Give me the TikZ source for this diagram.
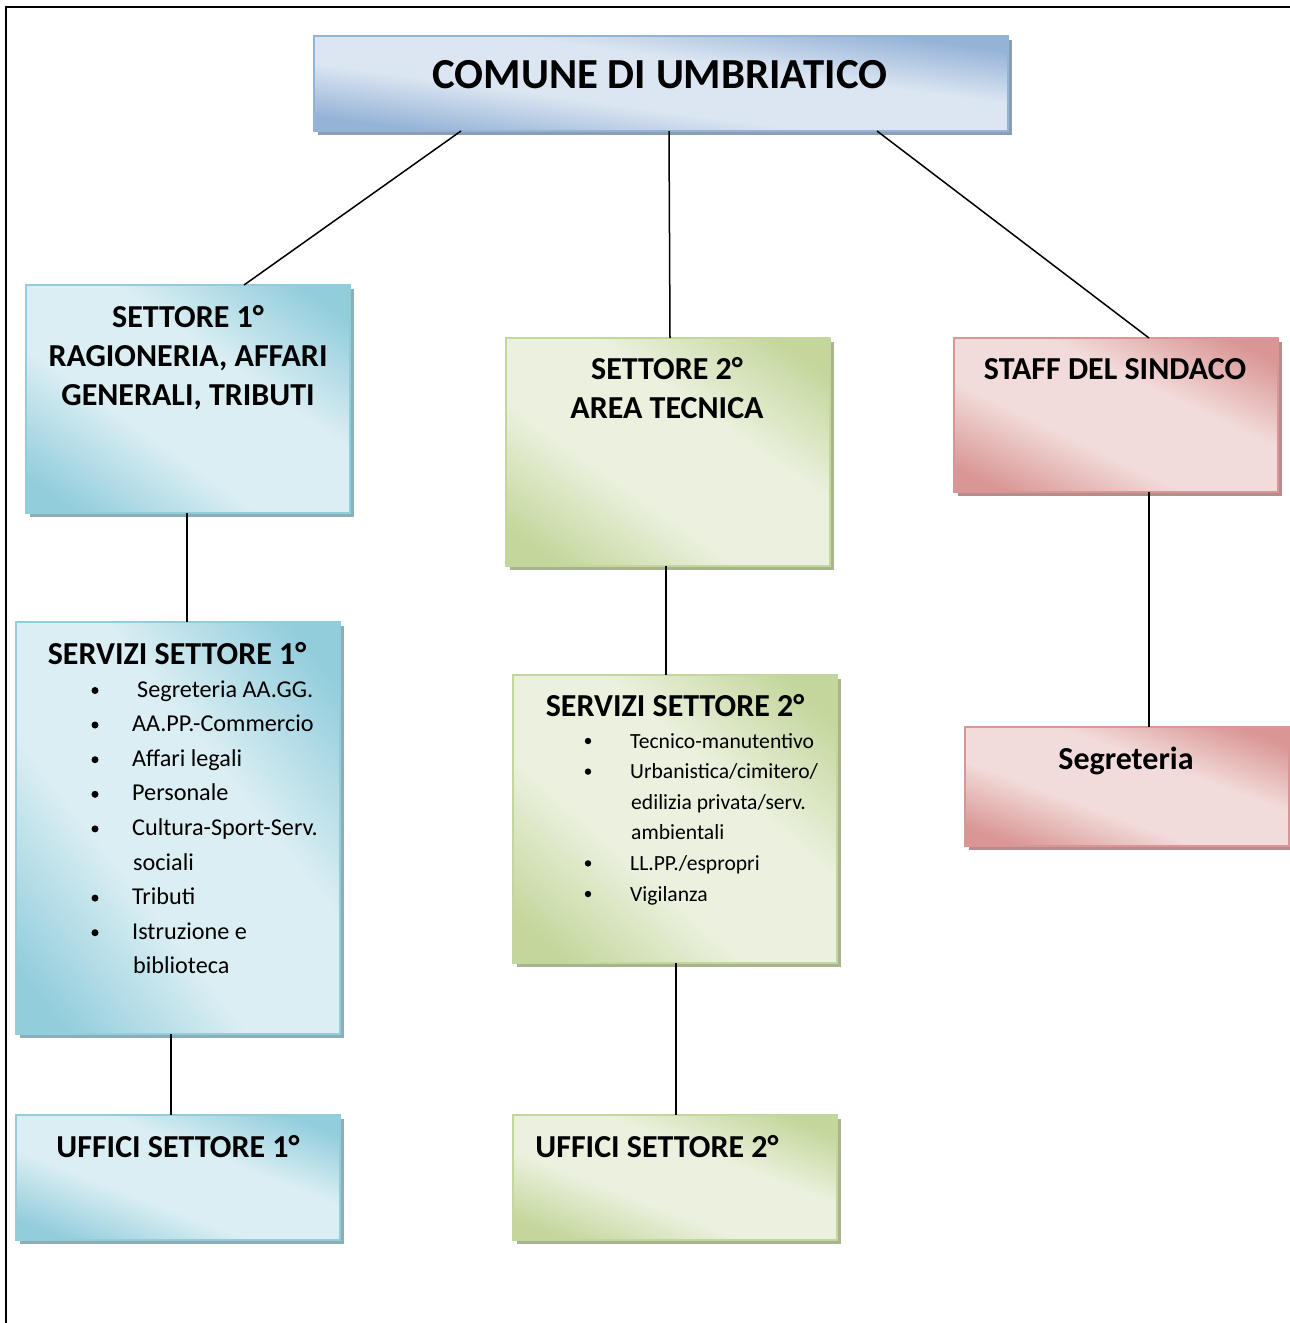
\documentclass[tikz,border=0pt]{standalone}
\usepackage{fontspec}
\setmainfont{Carlito}
\usetikzlibrary{shadows}

\definecolor{bluD}{HTML}{95B3D7}\definecolor{bluL}{HTML}{DCE6F2}
\definecolor{cyaD}{HTML}{92CDDC}\definecolor{cyaL}{HTML}{DAEEF3}
\definecolor{grnD}{HTML}{C3D69B}\definecolor{grnL}{HTML}{EBF1DE}
\definecolor{redD}{HTML}{D99694}\definecolor{redL}{HTML}{F2DCDB}

\pgfdeclareverticalshading{shblu}{100bp}{color(0bp)=(bluD); color(20bp)=(bluD); color(40bp)=(bluL); color(60bp)=(bluL); color(80bp)=(bluD); color(100bp)=(bluD)}
\pgfdeclareverticalshading{shcya}{100bp}{color(0bp)=(cyaD); color(20bp)=(cyaD); color(40bp)=(cyaL); color(60bp)=(cyaL); color(80bp)=(cyaD); color(100bp)=(cyaD)}
\pgfdeclareverticalshading{shgrn}{100bp}{color(0bp)=(grnD); color(20bp)=(grnD); color(40bp)=(grnL); color(60bp)=(grnL); color(80bp)=(grnD); color(100bp)=(grnD)}
\pgfdeclareverticalshading{shred}{100bp}{color(0bp)=(redD); color(20bp)=(redD); color(40bp)=(redL); color(60bp)=(redL); color(80bp)=(redD); color(100bp)=(redD)}

\newcommand\ttlfont{\fontsize{32}{39}\selectfont\bfseries}
\newcommand\bigfont{\fontsize{42.8}{50}\selectfont\bfseries}
\newcommand\lstAfont{\fontsize{24.2}{28}\selectfont}
\newcommand\lstBfont{\fontsize{21.6}{26}\selectfont}

\tikzset{
  orgbox/.style n args={3}{rectangle, inner sep=0pt, outer sep=0pt, line width=2pt,
    draw=#1D, fill=#1L, minimum width=#2pt, minimum height=#3pt,
    general shadow={shadow xshift=4pt, shadow yshift=-4pt, fill=#1D!60!gray}},
  ttl/.style={anchor=base, inner sep=0pt, font=\ttlfont},
  itemA/.style={anchor=base west, inner sep=0pt, font=\lstAfont},
  itemB/.style={anchor=base west, inner sep=0pt, font=\lstBfont},
  dotA/.style={circle, fill=black, inner sep=0pt, minimum size=7pt},
  dotB/.style={circle, fill=black, inner sep=0pt, minimum size=6.4pt},
  link/.style={line width=1.5pt, draw=black}
}

% box: name, colour, x, y, width, height
\newcommand\obox[6]{%
  \node[orgbox={#2}{#5}{#6}] (#1) at (#3,#4) {};
  \begin{scope}[transform canvas={shift={(#3,#4)}, xscale=#5/100, yscale=#6/100}]
    \shade[shading=sh#2, shading angle=-45] (-50,-50) rectangle (50,50);
  \end{scope}
  \draw[draw=#2D, line width=2pt] (#1.south west) rectangle (#1.north east);
}

\begin{document}
\begin{tikzpicture}[x=1pt,y=-1pt]
\useasboundingbox (0,0) rectangle (1290,1323);
\fill[white] (0,0) rectangle (1290,1323);
% page frame
\draw[line width=2pt] (6,1325) -- (6,7) -- (1292,7);

% boxes
\obox{top}{blu}{661}{83.5}{694}{95}
\obox{s1}{cya}{188}{399}{324}{228}
\obox{s2}{grn}{668}{452}{324}{228}
\obox{staff}{red}{1116}{415}{324}{154}
\obox{sv1}{cya}{178}{828}{324}{412}
\obox{sv2}{grn}{675}{819}{324}{288}
\obox{segr}{red}{1127}{786.5}{324}{119}
\obox{uf1}{cya}{178}{1177.5}{324}{125}
\obox{uf2}{grn}{675}{1177.5}{324}{125}

% connectors
\draw[link] ([xshift=-200pt]top.south) -- ([xshift=56pt]s1.north);
\draw[link] ([xshift=8pt]top.south) -- ([xshift=2pt]s2.north);
\draw[link] ([xshift=216pt]top.south) -- ([xshift=33pt]staff.north);
\draw[link] ([xshift=-1pt]s1.south) -- ([xshift=9pt]sv1.north);
\draw[link] ([xshift=-2pt]s2.south) -- ([xshift=-9pt]sv2.north);
\draw[link] ([xshift=33pt]staff.south) -- ([xshift=22pt]segr.north);
\draw[link] ([xshift=-7pt]sv1.south) -- ([xshift=-7pt]uf1.north);
\draw[link] ([xshift=1pt]sv2.south) -- ([xshift=1pt]uf2.north);

% titles
\node[anchor=base, inner sep=0pt, font=\bigfont] (ttop) at (660,88) {COMUNE DI UMBRIATICO};
\node[ttl] (ts1a) at (188,327) {SETTORE 1°};
\node[ttl] (ts1b) at (188,366) {RAGIONERIA, AFFARI};
\node[ttl] (ts1c) at (188,405) {GENERALI, TRIBUTI};
\node[ttl] (ts2a) at (667,379) {SETTORE 2°};
\node[ttl] (ts2b) at (667,418) {AREA TECNICA};
\node[ttl] (tstaff) at (1115,379) {STAFF DEL SINDACO};
\node[ttl] (tsv1) at (177,664) {SERVIZI SETTORE 1°};
\node[ttl] (tsv2) at (675,716) {SERVIZI SETTORE 2°};
\node[ttl] (tsegr) at (1126,769) {Segreteria};
\node[ttl] (tuf1) at (178,1157) {UFFICI SETTORE 1°};
\node[ttl] (tuf2) at (657,1157) {UFFICI SETTORE 2°};

% list settore 1
\node[dotA] (da1) at (95,690.5) {};
\node[itemA] (la1) at (137,697) {Segreteria AA.GG.};
\node[dotA] (da2) at (95,725) {};
\node[itemA] (la2) at (132,731.6) {AA.PP.-Commercio};
\node[dotA] (da3) at (95,759.7) {};
\node[itemA] (la3) at (132,766.2) {Affari legali};
\node[dotA] (da4) at (95,794.3) {};
\node[itemA] (la4) at (132,800.8) {Personale};
\node[dotA] (da5) at (95,828.9) {};
\node[itemA] (la5) at (132,835.4) {Cultura-Sport-Serv.};
\node[itemA] (la6) at (133,870) {sociali};
\node[dotA] (da7) at (95,898.1) {};
\node[itemA] (la7) at (132,904.6) {Tributi};
\node[dotA] (da8) at (95,932.7) {};
\node[itemA] (la8) at (132,939.2) {Istruzione e};
\node[itemA] (la9) at (133,973.8) {biblioteca};

% list settore 2
\node[dotB] (db1) at (588,741) {};
\node[itemB] (lb1) at (630,748) {Tecnico-manutentivo};
\node[dotB] (db2) at (588,771.6) {};
\node[itemB] (lb2) at (630,778.6) {Urbanistica/cimitero/};
\node[itemB] (lb3) at (631,809.2) {edilizia privata/serv.};
\node[itemB] (lb4) at (631,839.8) {ambientali};
\node[dotB] (db5) at (588,863.4) {};
\node[itemB] (lb5) at (630,870.4) {LL.PP./espropri};
\node[dotB] (db6) at (588,894) {};
\node[itemB] (lb6) at (630,901) {Vigilanza};
\end{tikzpicture}
\end{document}
